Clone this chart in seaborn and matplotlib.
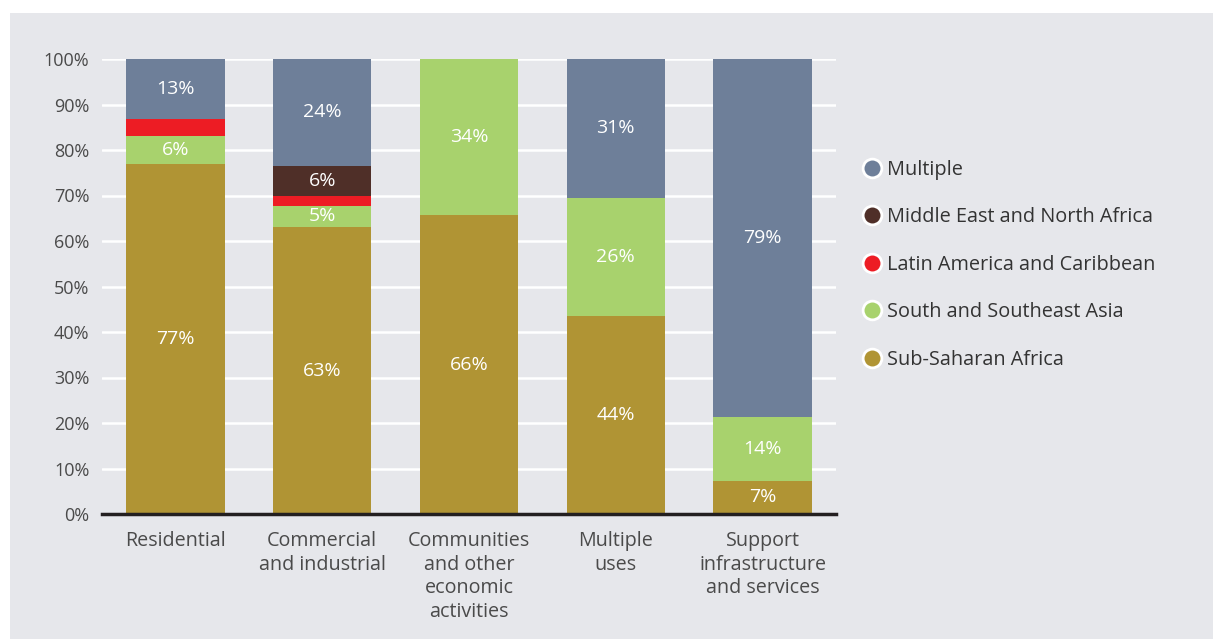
import matplotlib
matplotlib.use("Agg")
import matplotlib.pyplot as plt
import matplotlib.patches as mpatches
from matplotlib.lines import Line2D
import numpy as np
import pandas as pd
import seaborn as sns

categories = ["Residential", "Commercial\nand industrial", "Communities\nand other\neconomic\nactivities",
              "Multiple\nuses", "Support\ninfrastructure\nand services"]
series = ["Sub-Saharan Africa", "South and Southeast Asia", "Latin America and Caribbean",
          "Middle East and North Africa", "Multiple"]
ssa = [76.9, 63.0, 65.7, 43.6, 7.3]
sea = [6.2, 4.8, 34.3, 25.9, 14.0]
lac = [3.7, 2.2, 0.0, 0.0, 0.0]
mena = [0.0, 6.5, 0.0, 0.0, 0.0]
multi = [13.2, 23.5, 0.0, 30.5, 78.7]
labels_ssa = ["77%", "63%", "66%", "44%", "7%"]
labels_sea = ["6%", "5%", "34%", "26%", "14%"]
labels_lac = ["", "", "", "", ""]
labels_mena = ["", "6%", "", "", ""]
labels_multi = ["13%", "24%", "", "31%", "79%"]
colors = ["#b09434", "#a8d26d", "#ed1c24", "#4f2f28", "#6e7f99"]

BG = "#e6e7eb"
TXT = "#4a4a4a"
FONT = "Open Sans"

sns.set_theme(style="white")
plt.rcParams["font.family"] = [FONT, "DejaVu Sans"]

fig = plt.figure(figsize=(12.13, 6.39), dpi=100)
fig.patch.set_facecolor("white")
fig.add_artist(mpatches.Rectangle((10 / 1213, 0), 1, 1 - 13 / 639, transform=fig.transFigure,
                                  facecolor=BG, edgecolor="none", zorder=0))

ax = fig.add_axes([102 / 1213, 1 - 514 / 639, (836 - 102) / 1213, (514 - 59) / 639])
ax.set_facecolor(BG)

layers = [ssa, sea, lac, mena, multi]
layer_labels = [labels_ssa, labels_sea, labels_lac, labels_mena, labels_multi]
cum = np.cumsum(np.array(layers), axis=0)
bottoms = np.vstack([np.zeros(len(categories)), cum[:-1]])

# draw from top layer to bottom so each cumulative bar overlays the previous
for i in range(len(layers) - 1, -1, -1):
    df = pd.DataFrame({"cat": categories, "val": cum[i]})
    sns.barplot(data=df, x="cat", y="val", color=colors[i], width=0.67,
                saturation=1, ax=ax, zorder=3, linewidth=0)

for i, (vals, labs) in enumerate(zip(layers, layer_labels)):
    for j, (v, lab) in enumerate(zip(vals, labs)):
        if lab:
            ax.text(j, bottoms[i][j] + v / 2, lab, ha="center", va="center",
                    color="white", fontsize=14, zorder=5)

ax.set_xlim(-0.5, 4.5)
ax.set_ylim(0, 100)
ax.set_yticks(np.arange(0, 101, 10))
ax.set_yticklabels([f"{t}%" for t in range(0, 101, 10)], color=TXT, fontsize=13)
ax.set_xticks(range(len(categories)))
ax.set_xticklabels(categories, color=TXT, fontsize=14.2, linespacing=1.26)
ax.tick_params(axis="y", length=0, pad=9)
ax.tick_params(axis="x", length=0, pad=12)
ax.set_xlabel("")
ax.set_ylabel("")
ax.yaxis.grid(True, color="white", linewidth=1.8, zorder=0)
ax.set_axisbelow(True)
for s in ["top", "right", "left"]:
    ax.spines[s].set_visible(False)
ax.spines["bottom"].set_color("#231f20")
ax.spines["bottom"].set_linewidth(2.5)
ax.spines["bottom"].set_zorder(6)

handles = [Line2D([0], [0], marker="o", linestyle="none", markersize=13.5,
                  markerfacecolor=colors[i], markeredgecolor="white", markeredgewidth=2)
           for i in range(len(series) - 1, -1, -1)]
leg = fig.legend(handles, series[::-1], loc="upper left",
                 bbox_to_anchor=(842 / 1213, 1 - 142 / 639), frameon=False,
                 fontsize=14.3, labelspacing=1.38, handletextpad=0.15, handlelength=1.2)
for t in leg.get_texts():
    t.set_color("#333333")

fig.savefig("out.png", dpi=100, facecolor=fig.get_facecolor())
